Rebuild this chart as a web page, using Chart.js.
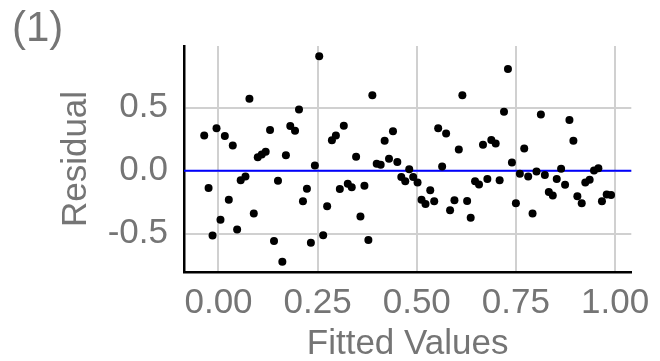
<!DOCTYPE html>
<html>
<head>
<meta charset="utf-8">
<script src="https://cdn.jsdelivr.net/npm/chart.js@4"></script>
<style>
  html, body { margin: 0; padding: 0; background: #fff; }
  #wrap { width: 660px; height: 361px; position: relative; }
</style>
</head>
<body>
<div id="wrap"><canvas id="chart" width="660" height="361"></canvas></div>
<script>
// fitted values and residuals
const fitted = [
  -0.036, -0.025, -0.015, -0.005, 0.005, 0.016, 0.026, 0.036, 0.047, 0.056,
  0.068, 0.078, 0.089, 0.099, 0.109, 0.119, 0.130, 0.140, 0.150, 0.161,
  0.170, 0.181, 0.193, 0.203, 0.213, 0.223, 0.233, 0.243, 0.254, 0.264,
  0.274, 0.286, 0.296, 0.306, 0.316, 0.326, 0.336, 0.347, 0.358, 0.368,
  0.378, 0.388, 0.399, 0.409, 0.419, 0.430, 0.440, 0.451, 0.461, 0.471,
  0.481, 0.491, 0.502, 0.512, 0.522, 0.534, 0.544, 0.554, 0.564, 0.574,
  0.584, 0.595, 0.606, 0.615, 0.627, 0.636, 0.647, 0.657, 0.667, 0.678,
  0.688, 0.699, 0.709, 0.720, 0.730, 0.740, 0.750, 0.760, 0.771, 0.781,
  0.792, 0.802, 0.813, 0.823, 0.833, 0.843, 0.853, 0.864, 0.874, 0.885,
  0.895, 0.905, 0.916, 0.925, 0.936, 0.947, 0.958, 0.967, 0.979, 0.990
];
const residual = [
  0.279, -0.137, -0.513, 0.337, -0.389, 0.276, -0.229, 0.200, -0.466, -0.076,
  -0.045, 0.571, -0.339, 0.108, 0.130, 0.152, 0.324, -0.558, -0.079, -0.721,
  0.124, 0.355, 0.318, 0.487, -0.242, -0.142, -0.571, 0.042, 0.908, -0.511,
  -0.282, 0.242, 0.279, -0.145, 0.358, -0.103, -0.131, 0.111, -0.363, -0.118,
  -0.550, 0.600, 0.055, 0.047, 0.239, 0.095, 0.313, 0.069, -0.050, -0.084,
  0.013, -0.050, -0.092, -0.229, -0.263, -0.155, -0.242, 0.337, 0.034, 0.295,
  -0.313, -0.234, 0.168, 0.600, -0.239, -0.373, -0.084, -0.108, 0.207, -0.066,
  0.245, 0.216, -0.076, 0.468, 0.808, 0.066, -0.258, -0.024, 0.176, -0.045,
  -0.339, -0.005, 0.447, -0.034, -0.168, -0.197, -0.066, 0.016, -0.110, 0.403,
  0.239, -0.203, -0.258, -0.092, -0.071, 0.002, 0.021, -0.242, -0.189, -0.192
];
const xTicks = [0, 0.25, 0.5, 0.75, 1.0];
const yTicks = [-0.5, 0, 0.5];
const refLine = 0;

const textGray = '#757575';
const fontFamily = '"Liberation Sans", Arial, Helvetica, sans-serif';

// horizontal reference line at residual = 0 and the panel tag "(1)"
const extras = {
  id: 'extras',
  beforeDatasetsDraw(chart) {
    const { ctx, chartArea } = chart;
    const y = chart.scales.y.getPixelForValue(refLine);
    ctx.save();
    ctx.strokeStyle = '#0000ff';
    ctx.lineWidth = 2;
    ctx.beginPath();
    ctx.moveTo(chartArea.left, y);
    ctx.lineTo(chartArea.right, y);
    ctx.stroke();
    ctx.restore();
  },
  afterDraw(chart) {
    const ctx = chart.ctx;
    ctx.save();
    ctx.fillStyle = textGray;
    ctx.font = '42px ' + fontFamily;
    ctx.textBaseline = 'middle';
    ctx.textAlign = 'left';
    ctx.fillText('(1)', 12, 29);
    ctx.restore();
  }
};

new Chart(document.getElementById('chart'), {
  type: 'scatter',
  data: {
    datasets: [{
      data: fitted.map((x, i) => ({ x: x, y: residual[i] })),
      backgroundColor: '#000',
      borderWidth: 0,
      pointRadius: 4,
      pointHoverRadius: 4
    }]
  },
  options: {
    responsive: false,
    animation: false,
    layout: { padding: { top: 46, right: 25, left: 0, bottom: 0 } },
    plugins: { legend: { display: false }, tooltip: { enabled: false } },
    scales: {
      x: {
        type: 'linear',
        min: -0.087,
        max: 1.041,
        afterBuildTicks: (s) => { s.ticks = xTicks.map(v => ({ value: v })); },
        afterFit: (s) => { s.height = 89; },
        grid: { color: '#d0d0d0', lineWidth: 2, drawTicks: false },
        border: { color: '#000', width: 2.5 },
        ticks: {
          color: textGray,
          font: { family: fontFamily, size: 35 },
          padding: 10,
          maxRotation: 0,
          callback: (v) => Number(v).toFixed(2)
        },
        title: {
          display: true,
          text: 'Fitted Values',
          color: textGray,
          font: { family: fontFamily, size: 35, lineHeight: 1 },
          padding: { top: 0, bottom: -1 }
        }
      },
      y: {
        type: 'linear',
        min: -0.803,
        max: 0.990,
        afterBuildTicks: (s) => { s.ticks = yTicks.map(v => ({ value: v })); },
        afterFit: (s) => { s.width = 184; },
        grid: { color: '#d0d0d0', lineWidth: 2, drawTicks: false },
        border: { color: '#000', width: 2.5 },
        ticks: {
          color: textGray,
          font: { family: fontFamily, size: 35 },
          padding: 16,
          callback: (v) => Number(v).toFixed(1)
        },
        title: {
          display: true,
          text: 'Residual',
          color: textGray,
          font: { family: fontFamily, size: 35, lineHeight: 1 },
          padding: { top: 59, bottom: 0 }
        }
      }
    }
  },
  plugins: [extras]
});
</script>
</body>
</html>
